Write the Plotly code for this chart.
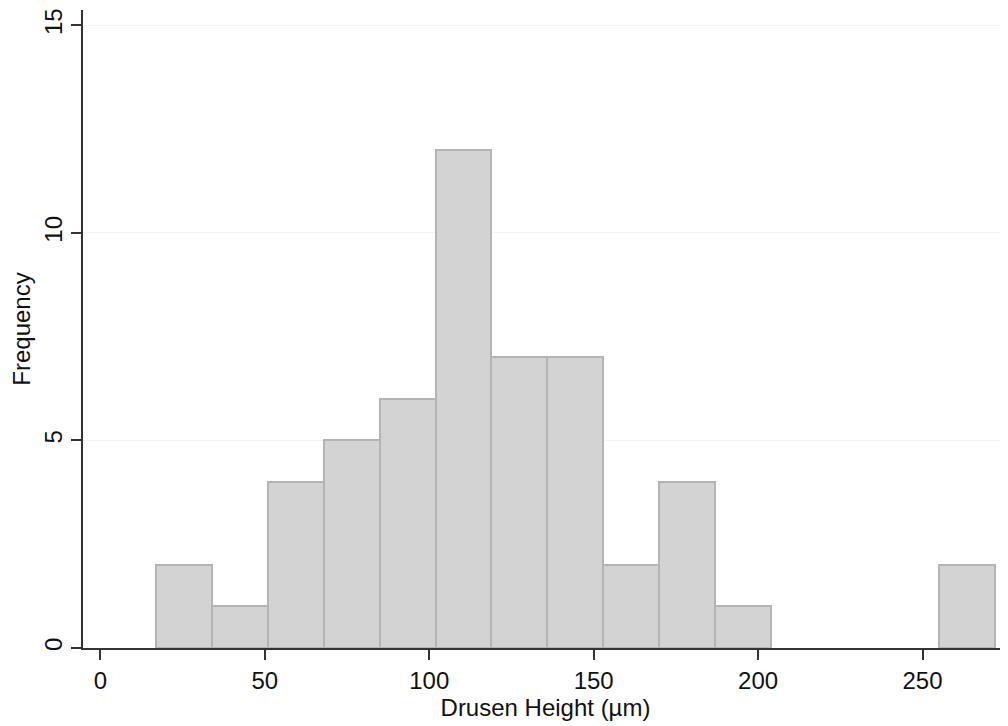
import plotly.graph_objects as go

# Histogram data (Stata-style: 15 bins starting at the minimum)
bin_start = 16.9
bin_width = 17.0
counts = [2, 1, 4, 5, 6, 12, 7, 7, 2, 4, 1, 0, 0, 0, 2]

x_ticks = [0, 50, 100, 150, 200, 250]
y_ticks = [0, 5, 10, 15]

centers = [bin_start + bin_width * (i + 0.5) for i in range(len(counts))]
xs = [c for c, n in zip(centers, counts) if n > 0]
ys = [n for n in counts if n > 0]

fig = go.Figure(
    go.Bar(
        x=xs,
        y=ys,
        width=bin_width,
        marker=dict(color="#d3d3d3", line=dict(color="#b4b4b4", width=2)),
        hoverinfo="x+y",
    )
)

font = dict(family="Liberation Sans, Arial, Helvetica, sans-serif", size=24, color="#111111")

fig.update_layout(
    width=1000,
    height=718,
    margin=dict(l=75, r=0, t=2, b=78),
    paper_bgcolor="white",
    plot_bgcolor="white",
    font=font,
    showlegend=False,
    bargap=0,
)
fig.update_xaxes(
    range=[-5.3, 276.0],
    tickvals=x_ticks,
    ticks="outside",
    ticklen=10,
    tickwidth=1.5,
    tickcolor="#333333",
    showline=True,
    linecolor="#333333",
    linewidth=1.5,
    showgrid=False,
    zeroline=False,
    title=dict(text="Drusen Height (µm)", standoff=1, font=font),
    tickfont=font,
)
fig.update_yaxes(
    range=[0, 15.37],
    tickvals=y_ticks,
    ticks="outside",
    ticklen=10,
    tickwidth=1.5,
    tickcolor="#333333",
    tickangle=-90,
    showline=True,
    linecolor="#333333",
    linewidth=1.5,
    showgrid=True,
    gridcolor="#f3f3f3",
    gridwidth=1,
    zeroline=False,
    title=dict(text="Frequency", standoff=6, font=font),
    tickfont=font,
)

fig.write_html("out.html")
